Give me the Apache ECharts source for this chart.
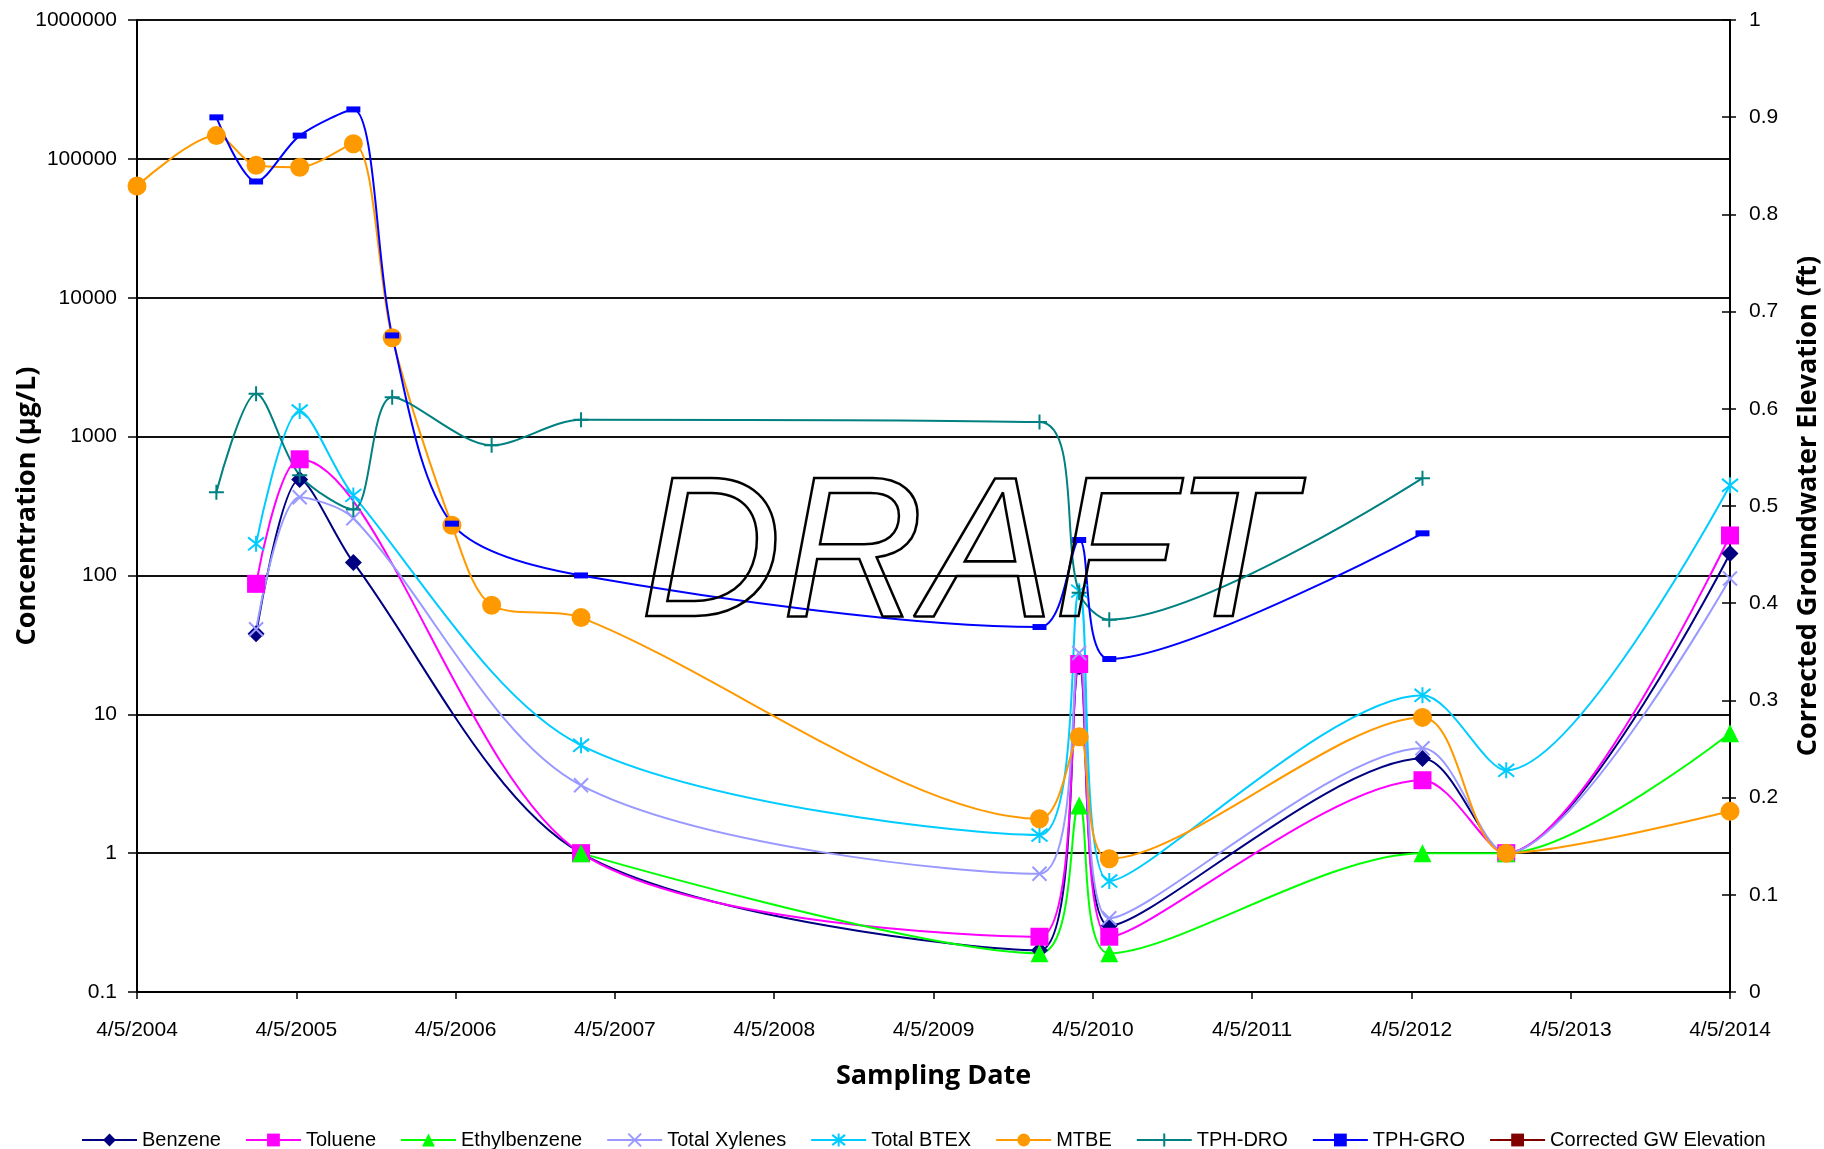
<!DOCTYPE html>
<html>
<head>
<meta charset="utf-8">
<script src="https://cdn.jsdelivr.net/npm/echarts@6/dist/echarts.min.js"></script>
<style>
html,body{margin:0;padding:0;background:#fff;}
#chart{width:1824px;height:1149px;}
</style>
</head>
<body>
<div id="chart"></div>
<script>
// Sampling dates (categories)
const sampleDates = ['2004-04-05','2004-10-04','2005-01-03','2005-04-13','2005-08-14','2005-11-11',
  '2006-03-28','2006-06-27','2007-01-18','2009-12-04','2010-03-05','2010-05-13',
  '2012-04-30','2012-11-08','2014-04-05'];
// Series values (µg/L), null = not sampled
const benzene      = [null, null, 38, 490, 124, null, null, null, 1.0, 0.2, 22, 0.30, 4.8, 1.0, 144];
const toluene      = [null, null, 87, 686, null, null, null, null, 1.0, 0.25, 23, 0.25, 3.35, 1.0, 194];
const ethylbenzene = [null, null, null, null, null, null, null, null, 1.0, 0.19, 2.2, 0.19, 1.0, 1.0, 7.3];
const totalXylenes = [null, null, 41, 366, 258, null, null, null, 3.08, 0.71, 27.6, 0.34, 5.7, 1.0, 95];
const totalBTEX    = [null, null, 169, 1527, 377, null, null, null, 5.98, 1.35, 77, 0.63, 13.7, 3.95, 446];
const mtbe         = [63700, 147000, 89800, 87000, 128600, 5150, 230, 61, 49.7, 1.77, 6.9, 0.91, 9.5, 1.0, 2.0];
const tphDRO       = [null, 398, 2037, 526, 299, 1923, null, 865, 1324, 1271, 75, 48, 502, null, null];
const tphGRO       = [null, 199000, 68700, 147000, 227000, 5350, 236, null, 100, 42.5, 180, 25, 201, null, null];
const gwElevation  = [];
// Tick labels
const xTickLabels = ['4/5/2004','4/5/2005','4/5/2006','4/5/2007','4/5/2008','4/5/2009','4/5/2010','4/5/2011','4/5/2012','4/5/2013','4/5/2014'];
const yTickLabels = ['0.1','1','10','100','1000','10000','100000','1000000'];

const baseDate = Date.parse('2004-04-05');
const dayOf = d => (Date.parse(d) - baseDate) / 86400000;
const pairs = vals => sampleDates.map((d, i) => [dayOf(d), vals[i]]).filter(p => p[1] !== null);

const crossPath = 'path://M0,0L10,10M10,0L0,10';
const starPath = 'path://M1,1L9,9M9,1L1,9M5,0L5,10';
const plusPath = 'path://M5,0L5,10M0,5L10,5';

function mk(name, vals, color, symbol, size, stroke) {
  return {
    name: name, type: 'line', data: pairs(vals), smooth: 0.3,
    symbol: symbol, symbolSize: size, showSymbol: true,
    lineStyle: {color: color, width: 2},
    itemStyle: stroke ? {color: color, borderColor: color, borderWidth: 2} : {color: color, borderWidth: 0},
    emphasis: {disabled: true}, z: 3
  };
}

const chart = echarts.init(document.getElementById('chart'));
const fontLab = '"Liberation Sans", Arial, sans-serif';
const fontTitle = '"Open Sans", sans-serif';
chart.setOption({
  animation: false,
  backgroundColor: '#fff',
  grid: {left: 137, right: 94, top: 20, bottom: 157, containLabel: false, outerBoundsMode: 'none'},
  xAxis: {
    type: 'value', min: 0, max: 3652, interval: 365.2,
    name: 'Sampling Date', nameLocation: 'middle', nameGap: 71,
    nameTextStyle: {fontFamily: fontTitle, fontWeight: 'bold', fontSize: 27, color: '#000'},
    axisLine: {lineStyle: {color: '#000', width: 2}},
    axisTick: {show: true, length: 7, lineStyle: {color: '#000', width: 1.5}},
    axisLabel: {formatter: v => xTickLabels[Math.round(v / 365.2)], margin: 28,
      fontFamily: fontLab, fontSize: 21, color: '#000', showMinLabel: true, showMaxLabel: true},
    splitLine: {show: false}
  },
  yAxis: [{
    type: 'log', logBase: 10, min: 0.1, max: 1000000,
    name: 'Concentration (µg/L)', nameLocation: 'middle', nameGap: 96, nameRotate: 90, nameMoveOverlap: false,
    nameTextStyle: {fontFamily: fontTitle, fontWeight: 'bold', fontSize: 27, color: '#000'},
    axisLine: {show: true, lineStyle: {color: '#000', width: 2}},
    axisTick: {show: true, length: 9, lineStyle: {color: '#000', width: 1.5}},
    axisLabel: {formatter: v => yTickLabels[Math.round(Math.log10(v)) + 1], margin: 20,
      fontFamily: fontLab, fontSize: 21, color: '#000'},
    splitLine: {show: true, lineStyle: {color: '#111', width: 2}}
  }, {
    type: 'value', position: 'right', min: 0, max: 1, interval: 0.1,
    name: 'Corrected Groundwater Elevation (ft)', nameLocation: 'middle', nameGap: 65, nameRotate: 90, nameMoveOverlap: false,
    nameTextStyle: {fontFamily: fontTitle, fontWeight: 'bold', fontSize: 27, color: '#000'},
    axisLine: {show: true, lineStyle: {color: '#000', width: 2}},
    axisTick: {show: true, length: 6, lineStyle: {color: '#000', width: 1.5}},
    axisLabel: {margin: 19, fontFamily: fontLab, fontSize: 21, color: '#000'},
    splitLine: {show: false}
  }, {
    type: 'value', position: 'right', min: 0, max: 1, interval: 0.1,
    axisLine: {show: false},
    axisTick: {show: true, inside: true, length: 8, lineStyle: {color: '#000', width: 1.5}},
    axisLabel: {show: false}, splitLine: {show: false}
  }],
  legend: {
    left: 81, top: 1130, padding: 0, itemWidth: 55, itemHeight: 16, itemGap: 24,
    textStyle: {fontFamily: fontLab, fontSize: 20, color: '#000'},
    data: ['Benzene','Toluene','Ethylbenzene','Total Xylenes','Total BTEX','MTBE','TPH-DRO','TPH-GRO','Corrected GW Elevation']
  },
  graphic: [{
    type: 'text', x: 967, y: 560, scaleX: 1, scaleY: 1.025, z: 100, silent: true,
    style: {text: 'DRAFT', font: 'italic 196px "Liberation Sans"', fill: 'transparent',
      stroke: '#000', lineWidth: 2.5, align: 'center', verticalAlign: 'middle'}
  }],
  series: [
    mk('Benzene', benzene, '#000080', 'diamond', 17, false),
    mk('Toluene', toluene, '#FF00FF', 'rect', 18, false),
    mk('Ethylbenzene', ethylbenzene, '#00FF00', 'triangle', 18, false),
    mk('Total Xylenes', totalXylenes, '#9999FF', crossPath, 14, true),
    mk('Total BTEX', totalBTEX, '#00CCFF', starPath, 16, true),
    mk('MTBE', mtbe, '#FF9900', 'circle', 19, false),
    mk('TPH-DRO', tphDRO, '#008080', plusPath, 15, true),
    mk('TPH-GRO', tphGRO, '#0000FF', 'rect', [14, 6], false),
    {name: 'Corrected GW Elevation', type: 'line', yAxisIndex: 1, data: gwElevation,
     symbol: 'rect', symbolSize: 10, lineStyle: {color: '#800000', width: 2}, itemStyle: {color: '#800000'}}
  ]
});
</script>
</body>
</html>
